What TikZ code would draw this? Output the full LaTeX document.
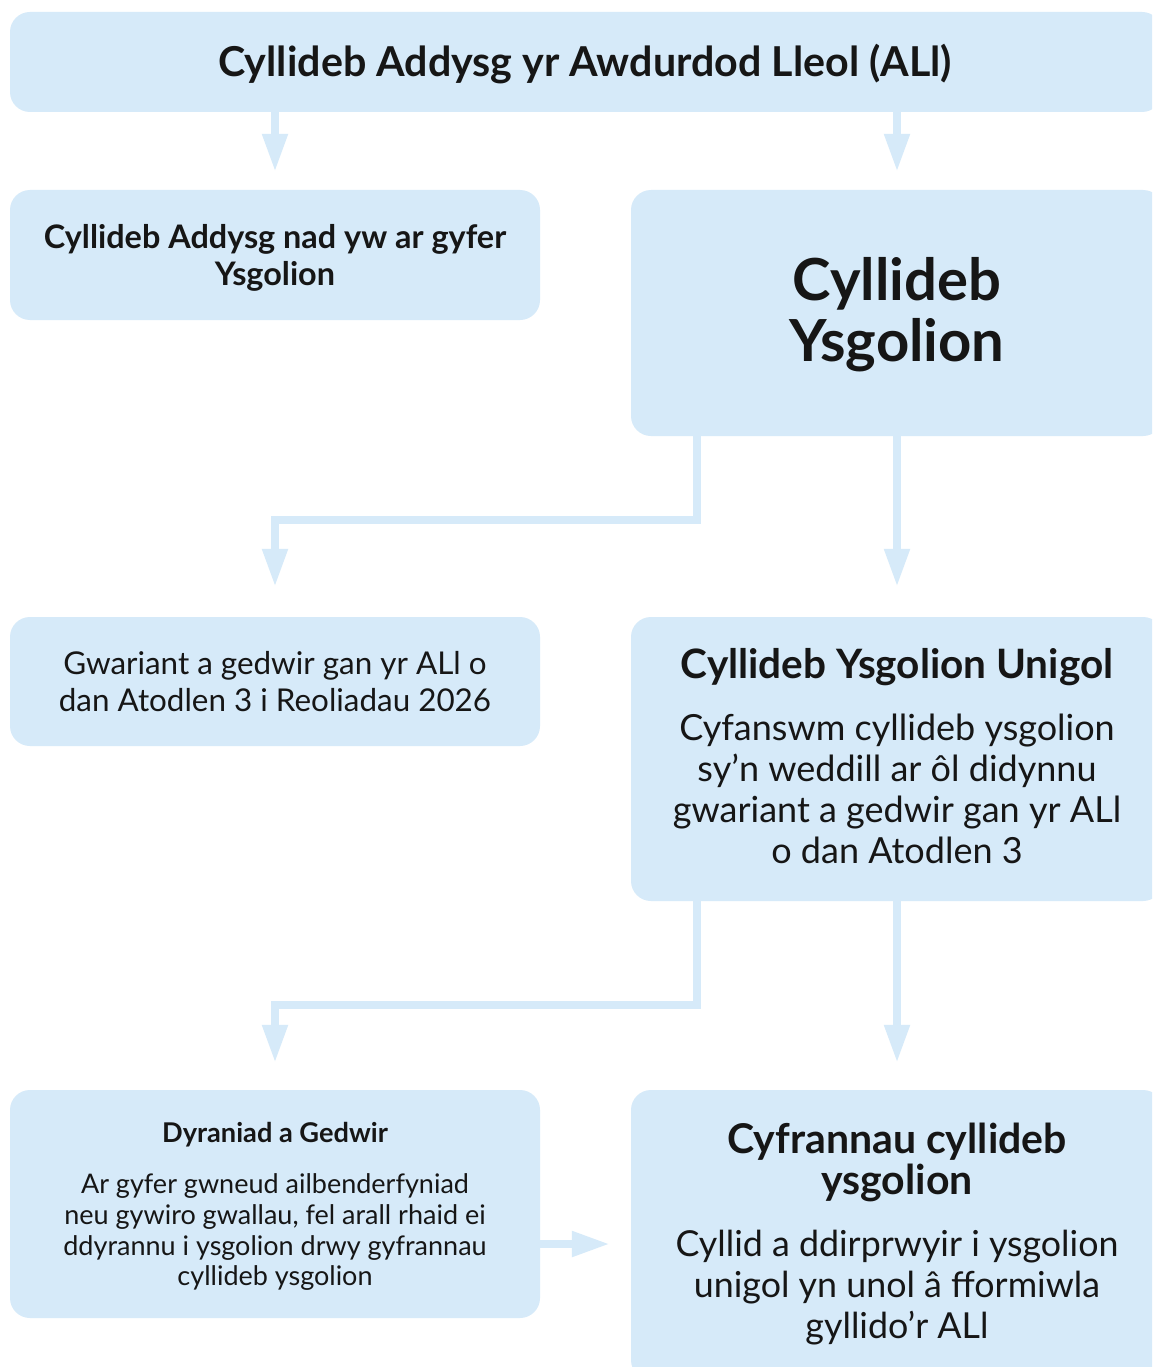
\documentclass[tikz,border=0pt]{standalone}
\usepackage{fontspec}
\setmainfont{Lato}
\usetikzlibrary{arrows.meta,calc}
\definecolor{boxblue}{RGB}{214,234,249}
\definecolor{txt}{RGB}{22,22,22}
\tikzset{
  box/.style={fill=boxblue, rounded corners=20pt, inner sep=0pt},
  tl/.style={anchor=base, inner sep=0pt, text=txt},
  flow/.style={draw=boxblue, line width=8pt, line join=miter, -{Triangle[width=24pt,length=38pt]}},
}
\newcommand{\fs}[1]{\fontsize{#1}{#1}\selectfont}
\begin{document}
\begin{tikzpicture}[x=1pt,y=-1pt]
\useasboundingbox (0,0) rectangle (1152,1367);
\clip (0,0) rectangle (1152,1367);
\fill[white] (0,0) rectangle (1152,1367);
% boxes
\node[box, minimum width=1152pt, minimum height=100pt] (top) at (586,62) {};
\node[box, minimum width=530pt, minimum height=130pt] (nad) at (275,255) {};
\node[box, minimum width=532pt, minimum height=246pt] (ysg) at (897,313) {};
\node[box, minimum width=530pt, minimum height=129pt] (gwar) at (275,681.5) {};
\node[box, minimum width=532pt, minimum height=284pt] (unig) at (897,759) {};
\node[box, minimum width=530pt, minimum height=228pt] (dyr) at (275,1204) {};
\node[box, minimum width=532pt, minimum height=290pt] (cyf) at (897,1235) {};
% texts
\node[tl, font=\fs{41.2}\bfseries] (t1) at (585,77) {Cyllideb Addysg yr Awdurdod Lleol (ALl)};
\node[tl, font=\fs{32.4}\bfseries] (t2a) at (275,248.5) {Cyllideb Addysg nad yw ar gyfer};
\node[tl, font=\fs{32.4}\bfseries] (t2b) at (275,285.5) {Ysgolion};
\node[tl, font=\fs{58}\bfseries] (t3a) at (897,300) {Cyllideb};
\node[tl, font=\fs{58}\bfseries] (t3b) at (897,361) {Ysgolion};
\node[tl, font=\fs{31.4}] (t4a) at (275,674) {Gwariant a gedwir gan yr ALl o};
\node[tl, font=\fs{31.4}] (t4b) at (275,711) {dan Atodlen 3 i Reoliadau 2026};
\node[tl, font=\fs{40.5}\bfseries] (t5) at (897,678) {Cyllideb Ysgolion Unigol};
\node[tl, font=\fs{36}] (t5a) at (897,740) {Cyfanswm cyllideb ysgolion};
\node[tl, font=\fs{36}] (t5b) at (897,781) {sy’n weddill ar ôl didynnu};
\node[tl, font=\fs{36}] (t5c) at (897,822) {gwariant a gedwir gan yr ALl};
\node[tl, font=\fs{36}] (t5d) at (897,863) {o dan Atodlen 3};
\node[tl, font=\fs{27.2}\bfseries] (t6) at (275,1142) {Dyraniad a Gedwir};
\node[tl, font=\fs{27}] (t6a) at (275,1193) {Ar gyfer gwneud ailbenderfyniad};
\node[tl, font=\fs{27}] (t6b) at (275,1224) {neu gywiro gwallau, fel arall rhaid ei};
\node[tl, font=\fs{27}] (t6c) at (275,1255) {ddyrannu i ysgolion drwy gyfrannau};
\node[tl, font=\fs{27}] (t6d) at (275,1285) {cyllideb ysgolion};
\node[tl, font=\fs{41}\bfseries] (t7a) at (897,1153) {Cyfrannau cyllideb};
\node[tl, font=\fs{41}\bfseries] (t7b) at (897,1194) {ysgolion};
\node[tl, font=\fs{35.8}] (t7c) at (897,1256) {Cyllid a ddirprwyir i ysgolion};
\node[tl, font=\fs{35.8}] (t7d) at (897,1297) {unigol yn unol â fformiwla};
\node[tl, font=\fs{35.8}] (t7e) at (897,1338) {gyllido’r ALl};
% connectors
\coordinate (lx) at (275,0);
\coordinate (rx) at (897,0);
\coordinate (ex) at (697,0);
\draw[flow] (top.south -| lx) -- ($(nad.north)+(0,-18)$);
\draw[flow] (top.south -| rx) -- ($(ysg.north)+(0,-18)$);
\draw[flow] (ysg.south -| ex) -- ++(0,84) -| ($(gwar.north)+(0,-30)$);
\draw[flow] (ysg.south) -- ($(unig.north)+(0,-30)$);
\draw[flow] (unig.south -| ex) -- ++(0,104) -| ($(dyr.north)+(0,-27)$);
\draw[flow] (unig.south) -- ($(cyf.north -| rx)+(0,-27)$);
\coordinate (ha) at ($(dyr.east)+(0,40)$);
\draw[flow] (ha) -- ($(cyf.west |- ha)+(-21,0)$);
\end{tikzpicture}
\end{document}
